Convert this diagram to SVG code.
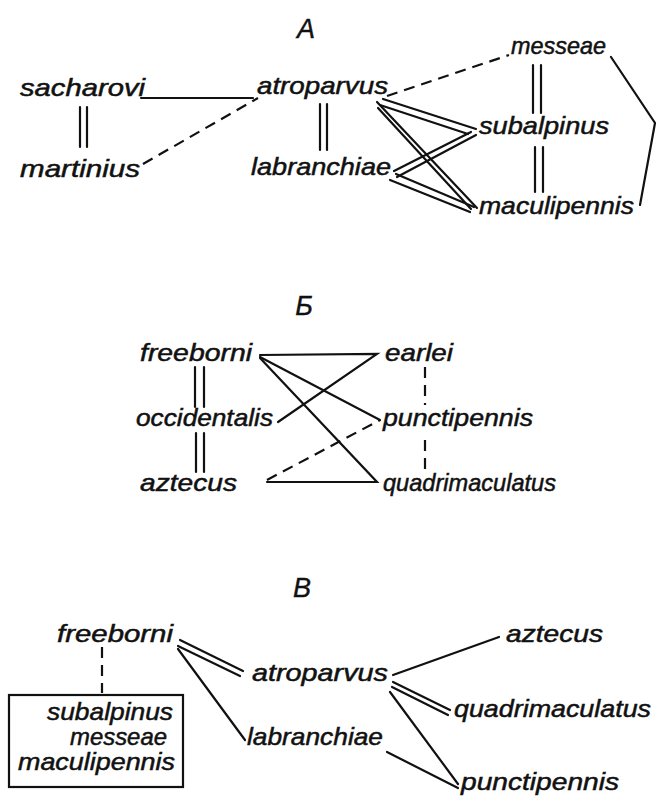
<svg xmlns="http://www.w3.org/2000/svg" width="656" height="799" viewBox="0 0 656 799">
  <style>
    .t { font-family: "Liberation Sans", "DejaVu Sans", sans-serif; font-style: italic; font-size: 24px; fill: #111; stroke: #111; stroke-width: 0.5; }
    .h { font-family: "Liberation Sans", "DejaVu Sans", sans-serif; font-style: italic; font-size: 27px; fill: #111; stroke: #111; stroke-width: 0.4; text-anchor: middle; }
    .c line, .c polyline { stroke: #111; stroke-width: 2.2; fill: none; stroke-linecap: round; }
    .c .d { stroke-dasharray: 11 7; stroke-linecap: butt; }
    .box { fill: none; stroke: #111; stroke-width: 2.2; }
  </style>

  <!-- Section headings -->
  <text class="h" x="306" y="38">A</text>
  <text class="h" x="304" y="315">Б</text>
  <text class="h" x="302" y="597">В</text>

  <!-- Section A nodes -->
  <g id="a-sacharovi"><text class="t" x="20" y="96" textLength="125" lengthAdjust="spacingAndGlyphs">sacharovi</text></g>
  <g id="a-martinius"><text class="t" x="20" y="177" textLength="120" lengthAdjust="spacingAndGlyphs">martinius</text></g>
  <g id="a-atroparvus"><text class="t" x="257" y="94" textLength="131" lengthAdjust="spacingAndGlyphs">atroparvus</text></g>
  <g id="a-labranchiae"><text class="t" x="251" y="175" textLength="140" lengthAdjust="spacingAndGlyphs">labranchiae</text></g>
  <g id="a-messeae"><text class="t" x="511" y="54" textLength="95" lengthAdjust="spacingAndGlyphs">messeae</text></g>
  <g id="a-subalpinus"><text class="t" x="479" y="134" textLength="130" lengthAdjust="spacingAndGlyphs">subalpinus</text></g>
  <g id="a-maculipennis"><text class="t" x="479" y="214" textLength="155" lengthAdjust="spacingAndGlyphs">maculipennis</text></g>

  <!-- Section Б nodes -->
  <g id="b-freeborni"><text class="t" x="140" y="361" textLength="112" lengthAdjust="spacingAndGlyphs">freeborni</text></g>
  <g id="b-earlei"><text class="t" x="385" y="361" textLength="68" lengthAdjust="spacingAndGlyphs">earlei</text></g>
  <g id="b-occidentalis"><text class="t" x="136" y="426" textLength="137" lengthAdjust="spacingAndGlyphs">occidentalis</text></g>
  <g id="b-punctipennis"><text class="t" x="383" y="426" textLength="150" lengthAdjust="spacingAndGlyphs">punctipennis</text></g>
  <g id="b-aztecus"><text class="t" x="140" y="491" textLength="97" lengthAdjust="spacingAndGlyphs">aztecus</text></g>
  <g id="b-quadrimaculatus"><text class="t" x="383" y="491" textLength="173" lengthAdjust="spacingAndGlyphs">quadrimaculatus</text></g>

  <!-- Section В nodes -->
  <g id="v-freeborni"><text class="t" x="57" y="642" textLength="116" lengthAdjust="spacingAndGlyphs">freeborni</text></g>
  <g id="v-group">
    <rect class="box" x="9" y="695" width="174" height="92"/>
    <text class="t" x="47" y="720" textLength="126" lengthAdjust="spacingAndGlyphs">subalpinus</text>
    <text class="t" x="70" y="745" textLength="97" lengthAdjust="spacingAndGlyphs">messeae</text>
    <text class="t" x="18" y="770" textLength="157" lengthAdjust="spacingAndGlyphs">maculipennis</text>
  </g>
  <g id="v-atroparvus"><text class="t" x="252" y="681" textLength="136" lengthAdjust="spacingAndGlyphs">atroparvus</text></g>
  <g id="v-labranchiae"><text class="t" x="247" y="745" textLength="136" lengthAdjust="spacingAndGlyphs">labranchiae</text></g>
  <g id="v-aztecus"><text class="t" x="506" y="642" textLength="97" lengthAdjust="spacingAndGlyphs">aztecus</text></g>
  <g id="v-quadrimaculatus"><text class="t" x="454" y="717" textLength="197" lengthAdjust="spacingAndGlyphs">quadrimaculatus</text></g>
  <g id="v-punctipennis"><text class="t" x="461" y="790" textLength="158" lengthAdjust="spacingAndGlyphs">punctipennis</text></g>

  <!-- Connectors -->
  <g id="connectors" class="c">
    <!-- A -->
    <line x1="141" y1="98" x2="253" y2="98"/>
    <line class="d" x1="143" y1="164" x2="258" y2="98"/>
    <line x1="80" y1="107" x2="80" y2="147"/>
    <line x1="87" y1="107" x2="87" y2="147"/>
    <line x1="320" y1="104" x2="320" y2="150"/>
    <line x1="327" y1="104" x2="327" y2="150"/>
    <line class="d" x1="387" y1="96" x2="509" y2="55"/>
    <line x1="533" y1="65" x2="533" y2="113"/>
    <line x1="541" y1="65" x2="541" y2="113"/>
    <line x1="535" y1="147" x2="535" y2="192"/>
    <line x1="543" y1="147" x2="543" y2="192"/>
    <polyline points="611,57 655,123 640,205"/>
    <line x1="383" y1="99" x2="476" y2="129"/>
    <line x1="380" y1="105" x2="468" y2="134"/>
    <line x1="377" y1="102" x2="477" y2="208"/>
    <line x1="378" y1="108" x2="471" y2="209"/>
    <line x1="394" y1="171" x2="471" y2="132"/>
    <line x1="397" y1="177" x2="476" y2="135"/>
    <line x1="396" y1="174" x2="474" y2="207"/>
    <line x1="390" y1="180" x2="470" y2="212"/>
    <!-- Б -->
    <line x1="195" y1="367" x2="195" y2="407"/>
    <line x1="204" y1="367" x2="204" y2="407"/>
    <line x1="196" y1="433" x2="196" y2="472"/>
    <line x1="204" y1="433" x2="204" y2="472"/>
    <line class="d" x1="425" y1="367" x2="425" y2="405"/>
    <line class="d" x1="425" y1="440" x2="425" y2="475"/>
    <polyline points="260,355 377,354 278,422"/>
    <line x1="260" y1="357" x2="380" y2="420"/>
    <polyline points="260,358 377,482 267,482"/>
    <line class="d" x1="267" y1="480" x2="380" y2="420"/>
    <!-- В -->
    <line class="d" x1="102" y1="647" x2="102" y2="693"/>
    <line x1="180" y1="640" x2="243" y2="671"/>
    <line x1="178" y1="646" x2="240" y2="676"/>
    <line x1="178" y1="649" x2="245" y2="740"/>
    <line x1="393" y1="675" x2="499" y2="637"/>
    <line x1="393" y1="682" x2="450" y2="710"/>
    <line x1="392" y1="687" x2="448" y2="715"/>
    <line x1="390" y1="692" x2="458" y2="784"/>
    <line x1="387" y1="752" x2="458" y2="788"/>
  </g>
</svg>
